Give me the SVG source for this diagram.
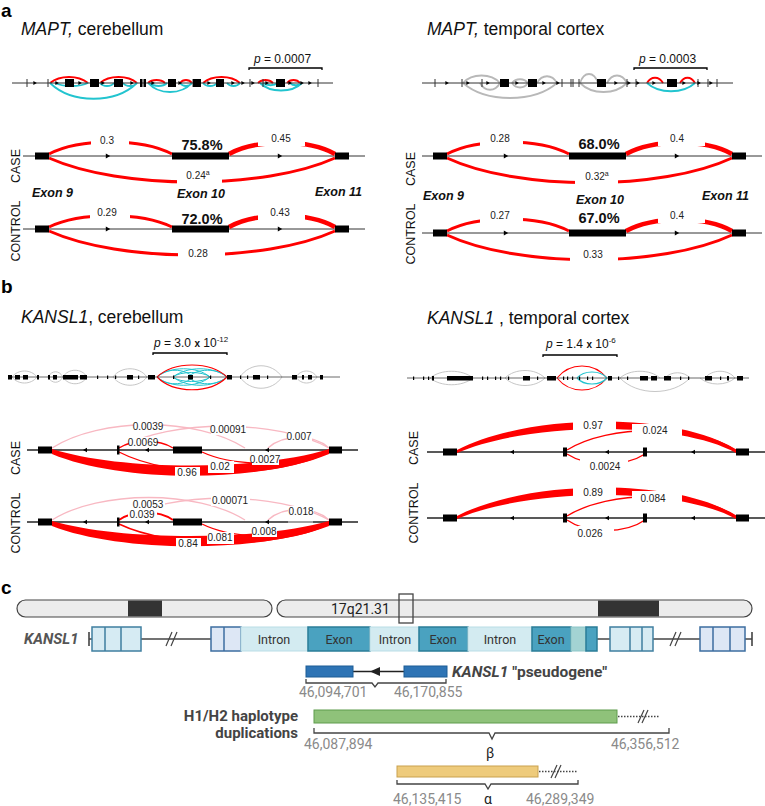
<svg xmlns="http://www.w3.org/2000/svg" width="765" height="806" viewBox="0 0 765 806">
<defs>
<style>
text{font-family:"Liberation Sans",Arial,sans-serif;}
.pl{font-size:19px;font-weight:bold;fill:#000}
.ttl{font-size:17.5px;fill:#111}
.pv{font-size:12px;fill:#111}
.num{font-size:10px;fill:#222;text-anchor:middle}
.pct{font-size:14.5px;font-weight:bold;fill:#111;text-anchor:middle}
.ex{font-size:12.5px;font-weight:bold;font-style:italic;fill:#111}
.cc{font-size:12.5px;fill:#111;text-anchor:middle}
.ln{stroke:#333;stroke-width:1;fill:none}
.lnb{stroke:#222;stroke-width:1.3;fill:none}
.red{stroke:#ff0000;fill:none}
.pink{stroke:#f8b8c2;fill:none;stroke-width:1.3}
.cy{stroke:#22c4cf;fill:none}
.gr{stroke:#b8b8b8;fill:none}
.box{fill:#fff}
.ink{fill:#000}
.brk{stroke:#000;stroke-width:1.3;fill:none}
.rb{font-family:Roboto,"Liberation Sans",sans-serif}
.coord{font-family:Roboto,"Liberation Sans",sans-serif;font-size:14px;fill:#8a8a8a}
.gtx{font-family:Roboto,"Liberation Sans",sans-serif;font-size:12.5px;fill:#333;text-anchor:middle}
.lb{fill:#d6ebf3;stroke:#3f7fa0;stroke-width:1.5}
.lb2{fill:#dde7f5;stroke:#3c6ea0;stroke-width:1.5}
.intr{fill:#d3ebf1;stroke:#b9dde6;stroke-width:1}
.exn{fill:#4aa2c0;stroke:#2b7d98;stroke-width:1.5}
.brace{stroke:#444;stroke-width:1.3;fill:none}
</style>
<path id="ar" d="M-2.2,-2.6 L2.2,0 L-2.2,2.6 Z"/>
<path id="al" d="M2,-2.2 L-2,0 L2,2.2 Z"/>
<path id="sar" d="M-1.6,-2 L1.8,0 L-1.6,2 Z"/>
</defs>
<rect width="765" height="806" fill="#fff"/>

<!-- ================= PANEL A LEFT ================= -->
<g id="panel-a-left">
<text class="pl" x="1" y="17" font-size="17">a</text>
<text class="ttl" x="21" y="35"><tspan font-style="italic">MAPT,</tspan> cerebellum</text>
<text class="pv" x="254" y="63"><tspan font-style="italic">p</tspan> = 0.0007</text>
<path class="brk" d="M249,70 V68 H322 V70"/>
<g id="a-left-mini">
<path class="red" stroke-width="1.8" d="M50,83 C60,75 78,75 88,83 M100,83 C109,75 128,75 137,83 M148,83 C152,79 161,79 165,83 M180,83 C183,79 189,79 192,83 M203,83 C212,75 231,75 240,83 M258,83 C262,79 269,79 273,83 M287,83 C290,79 297,79 300,83"/>
<path class="cy" stroke-width="1.8" d="M50,83 C72,104 115,104 137,83 M55,83 C63,87 80,87 88,83 M100,83 C103,87 111,87 114,83 M123,83 C126,87 134,87 137,83 M150,83 C154,87 163,87 167,83 M148,83 C159,95 181,95 192,83 M180,83 C183,87 189,87 192,83 M203,83 C206,87 214,87 217,83 M227,83 C230,87 237,87 240,83 M260,83 C270,93 292,93 302,83 M263,83 C267,86 274,86 278,83 M290,83 C293,86 299,86 302,83"/>
<line class="ln" x1="12" y1="83" x2="333" y2="83"/>
<path class="ln" d="M27,79 V87 M48,79 V87 M193,79 V87 M250,79 V87 M263,79 V87 M318,79 V87"/>
<g class="ink">
<rect x="65" y="79" width="9" height="8"/><rect x="90" y="79" width="9" height="8"/><rect x="114" y="79" width="9" height="8"/>
<rect x="140" y="79" width="2.5" height="8"/><rect x="143.5" y="79" width="2.5" height="8"/>
<rect x="168" y="79" width="8" height="8"/><rect x="193" y="79" width="8" height="8"/><rect x="216" y="79" width="8" height="8"/><rect x="276" y="79" width="9" height="8"/>
<use href="#sar" x="35" y="83"/><use href="#sar" x="57" y="83"/><use href="#sar" x="80" y="83"/><use href="#sar" x="103" y="83"/><use href="#sar" x="132" y="83"/><use href="#sar" x="153" y="83"/><use href="#sar" x="180" y="83"/><use href="#sar" x="209" y="83"/><use href="#sar" x="233" y="83"/><use href="#sar" x="243" y="83"/><use href="#sar" x="253" y="83"/><use href="#sar" x="267" y="83"/><use href="#sar" x="290" y="83"/><use href="#sar" x="302" y="83"/><use href="#sar" x="310" y="83"/>
</g>
</g>
<!-- CASE -->
<g id="a-left-case">
<line class="ln" x1="23" y1="156" x2="365" y2="156"/>
<path class="red" stroke-width="3" d="M49,154 C80,138 141,138 172,154"/>
<path class="red" stroke-width="4.5" d="M229,154 C256,139 309,139 335,154"/>
<path class="red" stroke-width="3" d="M49,158 C121,190 264,190 335,158"/>
<rect class="box" x="91" y="133" width="38" height="14"/>
<rect class="box" x="258" y="132" width="47" height="14"/>
<rect class="box" x="177" y="170" width="45" height="16"/>
<g class="ink"><rect x="35" y="152.5" width="14" height="7"/><rect x="172" y="152.5" width="57" height="7"/><rect x="335" y="152.5" width="14" height="7"/>
<use href="#ar" x="108" y="156"/><use href="#ar" x="280" y="156"/></g>
<text class="num" x="107" y="144">0.3</text>
<text class="num" x="281" y="142">0.45</text>
<text class="num" x="198" y="179">0.24<tspan font-size="7" dy="-4">a</tspan></text>
<text class="pct" x="202" y="150">75.8%</text>
<text class="cc" transform="translate(15,166) rotate(-90)" dy="4.5">CASE</text>
</g>
<text class="ex" x="32" y="197">Exon 9</text>
<text class="ex" x="177" y="198">Exon 10</text>
<text class="ex" x="315" y="196">Exon 11</text>
<!-- CONTROL -->
<g id="a-left-control">
<line class="ln" x1="23" y1="229" x2="365" y2="229"/>
<path class="red" stroke-width="3" d="M49,227 C80,212 141,212 172,227"/>
<path class="red" stroke-width="4.5" d="M229,227 C256,212 309,212 335,227"/>
<path class="red" stroke-width="3" d="M49,231 C121,263 264,263 335,231"/>
<rect class="box" x="90" y="206" width="40" height="14"/>
<rect class="box" x="258" y="206" width="47" height="14"/>
<rect class="box" x="178" y="246" width="47" height="16"/>
<g class="ink"><rect x="35" y="225.5" width="14" height="7"/><rect x="172" y="225.5" width="57" height="7"/><rect x="335" y="225.5" width="14" height="7"/>
<use href="#ar" x="108" y="229"/><use href="#ar" x="280" y="229"/></g>
<text class="num" x="107" y="216">0.29</text>
<text class="num" x="280" y="216">0.43</text>
<text class="num" x="198" y="257">0.28</text>
<text class="pct" x="202" y="224">72.0%</text>
<text class="cc" transform="translate(15,231) rotate(-90)" dy="4.5">CONTROL</text>
</g>
</g>

<!-- ================= PANEL A RIGHT ================= -->
<g id="panel-a-right">
<text class="ttl" x="427" y="35"><tspan font-style="italic">MAPT,</tspan> temporal cortex</text>
<text class="pv" x="639" y="63"><tspan font-style="italic">p</tspan> = 0.0003</text>
<path class="brk" d="M634,70 V68 H707 V70"/>
<g id="a-right-mini">
<path class="gr" stroke-width="1.8" d="M463,83 C472,73 491,73 500,83 M512,83 C516,78 524,78 528,83 M537,83 C542,74 552,74 557,83 M580,83 C584,71 594,71 598,83 M607,83 C612,73 622,73 627,83"/>
<path class="gr" stroke-width="1.8" d="M463,83 C486,103 534,103 557,83 M480,83 C485,92 495,92 500,83 M512,83 C516,89 524,89 528,83 M580,83 C592,95 615,95 627,83"/>
<path class="red" stroke-width="1.8" d="M647,83 C651,76 659,76 663,83 M680,83 C684,76 691,76 695,83"/>
<path class="cy" stroke-width="1.8" d="M647,83 C659,94 683,94 695,83"/>
<line class="ln" x1="422" y1="83" x2="733" y2="83"/>
<path class="ln" d="M435,79 V87 M462,79 V87 M482,79 V87 M562,79 V87 M571,79 V87 M573,79 V87 M579,79 V87 M627,79 V87 M636,79 V87 M698,79 V87 M708,79 V87 M717,79 V87"/>
<g class="ink">
<rect x="500" y="79" width="9" height="8"/><rect x="528" y="79" width="9" height="8"/><rect x="597" y="79" width="9" height="8"/><rect x="667" y="79" width="10" height="8"/>
<use href="#sar" x="447" y="83"/><use href="#sar" x="468" y="83"/><use href="#sar" x="488" y="83"/><use href="#sar" x="517" y="83"/><use href="#sar" x="544" y="83"/><use href="#sar" x="558" y="83"/><use href="#sar" x="616" y="83"/><use href="#sar" x="629" y="83"/><use href="#sar" x="638" y="83"/><use href="#sar" x="654" y="83"/><use href="#sar" x="684" y="83"/><use href="#sar" x="699" y="83"/><use href="#sar" x="711" y="83"/>
</g>
</g>
<g id="a-right-case">
<line class="ln" x1="422" y1="156" x2="762" y2="156"/>
<path class="red" stroke-width="3" d="M447,154 C478,138 538,138 569,154"/>
<path class="red" stroke-width="4.5" d="M626,154 C653,139 706,139 732,154"/>
<path class="red" stroke-width="3" d="M447,158 C518,191 661,191 732,158"/>
<rect class="box" x="480" y="132" width="43" height="14"/>
<rect class="box" x="658" y="132" width="47" height="14"/>
<rect class="box" x="575" y="170" width="43" height="16"/>
<g class="ink"><rect x="433" y="152.5" width="14" height="7"/><rect x="569" y="152.5" width="57" height="7"/><rect x="732" y="152.5" width="14" height="7"/>
<use href="#ar" x="506" y="156"/><use href="#ar" x="677" y="156"/></g>
<text class="num" x="500" y="142">0.28</text>
<text class="num" x="677" y="142">0.4</text>
<text class="num" x="597" y="180">0.32<tspan font-size="7" dy="-4">a</tspan></text>
<text class="pct" x="599" y="149">68.0%</text>
<text class="cc" transform="translate(410,169) rotate(-90)" dy="4.5">CASE</text>
</g>
<text class="ex" x="423" y="200">Exon 9</text>
<text class="ex" x="576" y="204">Exon 10</text>
<text class="ex" x="702" y="200">Exon 11</text>
<g id="a-right-control">
<line class="ln" x1="422" y1="233" x2="762" y2="233"/>
<path class="red" stroke-width="3" d="M447,231 C478,215 538,215 569,231"/>
<path class="red" stroke-width="4.5" d="M626,231 C653,216 706,216 732,231"/>
<path class="red" stroke-width="3" d="M447,235 C518,268 661,268 732,235"/>
<rect class="box" x="480" y="209" width="43" height="14"/>
<rect class="box" x="658" y="209" width="47" height="14"/>
<rect class="box" x="570" y="248" width="48" height="16"/>
<g class="ink"><rect x="433" y="229.5" width="14" height="7"/><rect x="569" y="229.5" width="57" height="7"/><rect x="732" y="229.5" width="14" height="7"/>
<use href="#ar" x="506" y="233"/><use href="#ar" x="677" y="233"/></g>
<text class="num" x="500" y="219">0.27</text>
<text class="num" x="677" y="219">0.4</text>
<text class="num" x="593" y="258">0.33</text>
<text class="pct" x="599" y="223">67.0%</text>
<text class="cc" transform="translate(410,234) rotate(-90)" dy="4.5">CONTROL</text>
</g>
</g>

<!-- ================= PANEL B LEFT ================= -->
<g id="panel-b-left">
<text class="pl" x="1" y="293">b</text>
<text class="ttl" x="21" y="323"><tspan font-style="italic">KANSL1</tspan>, cerebellum</text>
<text class="pv" x="154" y="347"><tspan font-style="italic">p</tspan> = 3.0 <tspan font-weight="bold" font-size="10">x</tspan> 10<tspan font-size="8" dy="-5">-12</tspan></text>
<path class="brk" d="M153,355 V353 H227 V355"/>
<g id="b-left-mini">
<path class="gr" stroke-width="0.8" d="M12,377 C18,369 31,369 37,377 M12,377 C18,385 31,385 37,377 M48,377 C52,370 59,370 63,377 M48,377 C52,384 59,384 63,377 M63,377 C68,368 82,368 87,377 M63,377 C68,386 82,386 87,377 M113,377 C121,366 139,366 147,377 M113,377 C121,388 139,388 147,377 M240,377 C250,362 272,362 282,377 M240,377 C250,392 272,392 282,377 M296,377 C301,369 312,369 317,377 M296,377 C301,385 312,385 317,377"/>
<path class="cy" stroke-width="1" d="M157,377 C166,368 184,368 193,377 M173,377 C187,366 213,366 227,377 M157,377 C170,366 197,366 210,377 M188,377 C197,368 218,368 227,377 M173,377 C180,371 203,371 210,377 M157,377 C166,386 184,386 193,377 M173,377 C187,388 213,388 227,377 M157,377 C170,388 197,388 210,377 M188,377 C197,386 218,386 227,377 M173,377 C180,383 203,383 210,377"/>
<path class="red" stroke-width="1.1" d="M157,377 C174,361 210,361 227,377 M157,377 C174,394 210,394 227,377"/>
<line x1="8" y1="377" x2="340" y2="377" stroke="#444" stroke-width="0.8"/>
<g class="ink">
<rect x="8" y="375" width="4" height="4.5"/><rect x="15" y="375" width="5" height="4.5"/><rect x="23" y="375" width="5" height="4.5"/><rect x="37" y="375" width="2" height="4.5"/><rect x="48" y="375" width="2" height="4.5"/><rect x="53" y="375" width="4" height="4.5"/><rect x="63" y="375" width="15" height="4.5"/><rect x="80" y="375" width="7" height="4.5"/><rect x="97" y="375.5" width="1.2" height="3.5"/><rect x="107" y="375.5" width="1.2" height="3.5"/><rect x="115" y="375.5" width="1.2" height="3.5"/><rect x="127" y="375" width="6" height="4.5"/><rect x="138" y="375.5" width="1.2" height="3.5"/><rect x="148" y="375" width="7" height="4.5"/><rect x="173" y="375.5" width="1.2" height="3.5"/><rect x="188" y="375" width="5" height="4.5"/><rect x="210" y="375.5" width="1.2" height="3.5"/><rect x="227" y="375" width="5" height="4.5"/><rect x="240" y="375.5" width="1.2" height="3.5"/><rect x="247" y="375.5" width="1.2" height="3.5"/><rect x="253" y="375" width="7" height="4.5"/><rect x="267" y="375.5" width="1.2" height="3.5"/><rect x="292" y="375" width="5" height="4.5"/><rect x="302" y="375" width="2" height="4.5"/><rect x="308" y="375" width="4" height="4.5"/><rect x="320" y="375" width="3" height="4.5"/>
</g>
</g>
<g id="b-left-case">
<line class="lnb" x1="27" y1="450" x2="358" y2="450"/>
<path class="pink" d="M52,448 C100,417 197,417 245,448"/>
<path class="pink" d="M119,448 C171,419 277,419 329,448"/>
<path class="pink" d="M268,448 C283,434 314,434 329,448"/>
<path class="red" stroke-width="1.3" d="M119,448 C133,439 159,439 173,448"/>
<path class="red" stroke-width="1.3" d="M202,452 C234,467 297,467 329,452"/>
<path class="red" stroke-width="1.3" d="M119,452 C171,479 277,479 329,452"/>
<path fill="#ff0000" d="M52,449 C121,471 260,471 329,449 L329,454 C260,483 121,483 52,454 Z"/>
<rect class="box" x="133" y="421" width="30" height="11"/>
<rect class="box" x="211" y="424" width="35" height="11"/>
<rect class="box" x="287" y="431" width="25" height="11"/>
<rect class="box" x="129" y="437" width="28" height="11"/>
<rect class="box" x="252" y="454" width="27" height="11"/>
<rect class="box" x="175" y="467" width="25" height="12"/>
<rect class="box" x="208" y="461" width="26" height="12"/>
<g class="ink"><rect x="38" y="446.5" width="14" height="7"/><rect x="117" y="445.5" width="2.5" height="9"/><rect x="173" y="446.5" width="29" height="7"/><rect x="329" y="446.5" width="13" height="7"/>
<use href="#al" x="85" y="450"/><use href="#al" x="147" y="450"/><use href="#al" x="267" y="450"/></g>
<text class="num" x="148" y="430">0.0039</text>
<text class="num" x="228" y="433">0.00091</text>
<text class="num" x="299" y="440">0.007</text>
<text class="num" x="143" y="446">0.0069</text>
<text class="num" x="265" y="463">0.0027</text>
<text class="num" x="187" y="476">0.96</text>
<text class="num" x="220" y="470">0.02</text>
<text class="cc" transform="translate(15,458) rotate(-90)" dy="4.5">CASE</text>
</g>
<g id="b-left-control">
<line class="lnb" x1="27" y1="522" x2="358" y2="522"/>
<line x1="288" y1="522" x2="313" y2="522" stroke="#bbb" stroke-width="1.5"/>
<path class="pink" d="M52,520 C100,490 197,490 245,520"/>
<path class="pink" d="M119,520 C171,491 277,491 329,520"/>
<path class="pink" d="M268,520 C283,506 314,506 329,520"/>
<path class="red" stroke-width="2" d="M119,520 C133,510 159,510 173,520"/>
<path class="red" stroke-width="1.3" d="M202,524 C234,540 297,540 329,524"/>
<path class="red" stroke-width="1.5" d="M119,524 C171,549 277,549 329,524"/>
<path fill="#ff0000" d="M52,521 C121,541 260,541 329,521 L329,526 C260,553 121,553 52,526 Z"/>
<rect class="box" x="132" y="499" width="33" height="11"/>
<rect class="box" x="211" y="495" width="39" height="11"/>
<rect class="box" x="288" y="506" width="26" height="11"/>
<rect class="box" x="128" y="509" width="29" height="11"/>
<rect class="box" x="252" y="526" width="25" height="11"/>
<rect class="box" x="176" y="538" width="25" height="12"/>
<rect class="box" x="207" y="532" width="27" height="12"/>
<g class="ink"><rect x="38" y="518.5" width="14" height="7"/><rect x="117" y="517.5" width="2.5" height="9"/><rect x="173" y="518.5" width="29" height="7"/><rect x="329" y="518.5" width="13" height="7"/>
<use href="#al" x="85" y="522"/><use href="#al" x="147" y="522"/><use href="#al" x="267" y="522"/></g>
<text class="num" x="148" y="508">0.0053</text>
<text class="num" x="230" y="504">0.00071</text>
<text class="num" x="301" y="515">0.018</text>
<text class="num" x="142" y="518">0.039</text>
<text class="num" x="264" y="535">0.008</text>
<text class="num" x="188" y="547">0.84</text>
<text class="num" x="220" y="541">0.081</text>
<text class="cc" transform="translate(15,523) rotate(-90)" dy="4.5">CONTROL</text>
</g>
</g>

<!-- ================= PANEL B RIGHT ================= -->
<g id="panel-b-right">
<text class="ttl" x="427" y="324"><tspan font-style="italic">KANSL1</tspan> , temporal cortex</text>
<text class="pv" x="546" y="348"><tspan font-style="italic">p</tspan> = 1.4 <tspan font-weight="bold" font-size="10">x</tspan> 10<tspan font-size="8" dy="-5">-6</tspan></text>
<path class="brk" d="M543,357 V355 H617 V357"/>
<g id="b-right-mini">
<path class="gr" stroke-width="0.8" d="M430,378 C441,369 462,369 473,378 M430,378 C441,387 462,387 473,378 M505,378 C515,368 535,368 545,378 M505,378 C515,388 535,388 545,378 M620,378 C630,369 650,369 660,378 M620,378 C637,396 673,396 690,378 M665,378 C671,371 684,371 690,378 M705,378 C712,369 728,369 735,378 M700,378 C709,386 726,386 735,378"/>
<path class="red" stroke-width="1.1" d="M557,378 C570,362 594,362 607,378 M557,378 C570,394 594,394 607,378"/>
<path class="cy" stroke-width="1.2" d="M577,378 C584,370 600,370 607,378 M577,378 C584,386 600,386 607,378"/>
<line x1="407" y1="378" x2="749" y2="378" stroke="#444" stroke-width="0.8"/>
<g class="ink">
<rect x="413" y="376.5" width="1.2" height="3.5"/><rect x="423" y="376.5" width="1.2" height="3.5"/><rect x="428" y="376.5" width="1.2" height="3.5"/><rect x="432" y="376" width="2" height="4.5"/><rect x="447" y="376" width="26" height="4.5"/><rect x="482" y="376.5" width="1.2" height="3.5"/><rect x="487" y="376.5" width="1.2" height="3.5"/><rect x="495" y="376.5" width="1.2" height="3.5"/><rect x="500" y="376.5" width="1.2" height="3.5"/><rect x="508" y="376.5" width="1.2" height="3.5"/><rect x="523" y="376" width="7" height="4.5"/><rect x="537" y="376.5" width="1.2" height="3.5"/><rect x="547" y="376" width="9" height="4.5"/><rect x="563" y="376.5" width="1.2" height="3.5"/><rect x="567" y="376.5" width="1.2" height="3.5"/><rect x="572" y="376.5" width="1.2" height="3.5"/><rect x="579" y="376.5" width="1.2" height="3.5"/><rect x="587" y="376.5" width="1.2" height="3.5"/><rect x="592" y="376.5" width="1.2" height="3.5"/><rect x="608" y="376" width="4" height="4.5"/><rect x="618" y="376.5" width="1.2" height="3.5"/><rect x="627" y="376.5" width="1.2" height="3.5"/><rect x="640" y="376" width="8" height="4.5"/><rect x="651" y="376" width="6" height="4.5"/><rect x="664" y="376" width="7" height="4.5"/><rect x="680" y="376.5" width="1.2" height="3.5"/><rect x="688" y="376.5" width="1.2" height="3.5"/><rect x="705" y="376" width="7" height="4.5"/><rect x="720" y="376.5" width="1.2" height="3.5"/><rect x="727" y="376" width="2" height="4.5"/><rect x="737" y="376" width="6" height="4.5"/>
</g>
</g>
<g id="b-right-case">
<line class="lnb" x1="427" y1="452" x2="765" y2="452"/>
<path class="red" stroke-width="1.3" d="M567,450 C609,424 694,424 736,450"/>
<path class="red" stroke-width="1.3" d="M567,454 C587,467 625,467 645,454"/>
<path fill="#ff0000" d="M457,450 C530,412 680,412 736,450 L736,453 C680,421 530,421 457,453 Z"/>
<rect class="box" x="573" y="418" width="43" height="14"/>
<rect class="box" x="632" y="424" width="50" height="14"/>
<rect class="box" x="580" y="459" width="48" height="15"/>
<g class="ink"><rect x="443" y="448.5" width="14" height="7"/><rect x="563" y="447.5" width="4" height="9"/><rect x="643" y="447.5" width="4" height="9"/><rect x="736" y="448.5" width="13" height="7"/>
<use href="#al" x="512" y="452"/><use href="#al" x="607" y="452"/><use href="#al" x="693" y="452"/></g>
<text class="num" x="593" y="429">0.97</text>
<text class="num" x="655" y="434">0.024</text>
<text class="num" x="605" y="470">0.0024</text>
<text class="cc" transform="translate(413,448) rotate(-90)" dy="4.5">CASE</text>
</g>
<g id="b-right-control">
<line class="lnb" x1="427" y1="518" x2="765" y2="518"/>
<path class="red" stroke-width="1.3" d="M567,516 C609,490 694,490 736,516"/>
<path class="red" stroke-width="1.3" d="M567,520 C587,534 625,534 645,520"/>
<path fill="#ff0000" d="M457,516 C530,478 680,478 736,516 L736,519 C680,487 530,487 457,519 Z"/>
<rect class="box" x="573" y="484" width="43" height="14"/>
<rect class="box" x="632" y="491" width="50" height="14"/>
<rect class="box" x="578" y="526" width="36" height="15"/>
<g class="ink"><rect x="443" y="514.5" width="14" height="7"/><rect x="563" y="513.5" width="4" height="9"/><rect x="643" y="513.5" width="4" height="9"/><rect x="736" y="514.5" width="13" height="7"/>
<use href="#al" x="512" y="518"/><use href="#al" x="607" y="518"/><use href="#al" x="693" y="518"/></g>
<text class="num" x="593" y="496">0.89</text>
<text class="num" x="653" y="502">0.084</text>
<text class="num" x="590" y="537">0.026</text>
<text class="cc" transform="translate(413,513) rotate(-90)" dy="4.5">CONTROL</text>
</g>
</g>

<!-- ================= PANEL C ================= -->
<g id="panel-c">
<text class="pl" x="1" y="594">c</text>
<g id="chromosome">
<rect x="17" y="600" width="255" height="17" rx="8.5" fill="#ececec" stroke="#444" stroke-width="1.2"/>
<rect x="128" y="600.6" width="34" height="15.8" fill="#333"/>
<rect x="277" y="600" width="475" height="17" rx="8.5" fill="#ececec" stroke="#444" stroke-width="1.2"/>
<rect x="598" y="600.6" width="61" height="15.8" fill="#333"/>
<text class="rb" x="331" y="614" font-size="14" fill="#222">17q21.31</text>
<rect x="399" y="594" width="14" height="29" fill="none" stroke="#444" stroke-width="1.3"/>
</g>
<g id="kansl1-gene">
<text class="rb" x="24" y="644" font-size="15" font-weight="bold" font-style="italic" fill="#555">KANSL1</text>
<line x1="89" y1="639" x2="752" y2="639" stroke="#444" stroke-width="1.6"/>
<path d="M89,632 V646 M752,632 V646" stroke="#444" stroke-width="1.6"/>
<path d="M166,646 L172,632 M171,646 L177,632 M670,646 L676,632 M675,646 L681,632" stroke="#444" stroke-width="1.2"/>
<rect class="lb" x="92" y="627" width="49" height="24"/>
<path d="M105,627 V651 M121,627 V651" stroke="#3f7fa0" stroke-width="1.5"/>
<rect class="lb2" x="211" y="627" width="30" height="24"/>
<path d="M224,627 V651" stroke="#3c6ea0" stroke-width="1.5"/>
<rect class="intr" x="241" y="627" width="67" height="24"/>
<rect class="exn" x="308" y="627" width="62" height="24"/>
<rect class="intr" x="370" y="627" width="49" height="24"/>
<rect class="exn" x="419" y="627" width="49" height="24"/>
<rect class="intr" x="468" y="627" width="64" height="24"/>
<rect class="exn" x="532" y="627" width="39" height="24"/>
<rect x="571" y="627" width="15" height="24" fill="#a3d3d3" stroke="#8cc6c8" stroke-width="1"/>
<rect class="exn" x="586" y="627" width="11" height="24"/>
<text class="gtx" x="274" y="644">Intron</text>
<text class="gtx" x="339" y="644">Exon</text>
<text class="gtx" x="395" y="644">Intron</text>
<text class="gtx" x="443" y="644">Exon</text>
<text class="gtx" x="500" y="644">Intron</text>
<text class="gtx" x="551" y="644">Exon</text>
<rect class="lb" x="610" y="627" width="43" height="24"/>
<path d="M630,627 V651 M642,627 V651" stroke="#3f7fa0" stroke-width="1.5"/>
<rect class="lb2" x="700" y="627" width="45" height="24"/>
<path d="M713,627 V651 M730,627 V651" stroke="#3c6ea0" stroke-width="1.5"/>
</g>
<g id="pseudogene">
<line x1="353" y1="671.5" x2="404" y2="671.5" stroke="#222" stroke-width="1.6"/>
<path d="M370,671.5 L380,667 L380,676 Z" fill="#222"/>
<rect x="306" y="666" width="47" height="11" fill="#2e74b5" stroke="#1d5c95" stroke-width="1"/>
<rect x="404" y="666" width="43" height="11" fill="#2e74b5" stroke="#1d5c95" stroke-width="1"/>
<text class="rb" x="452" y="677" font-size="15.5" font-weight="bold" fill="#444"><tspan font-style="italic">KANSL1</tspan> "pseudogene"</text>
<path class="brace" d="M306,679 V683 H372 L375,687 L378,683 H446 V679"/>
<text class="coord" x="299" y="697">46,094,701</text>
<text class="coord" x="394" y="697">46,170,855</text>
</g>
<g id="beta">
<text class="rb" x="298" y="721" font-size="15" font-weight="bold" fill="#444" text-anchor="end">H1/H2 haplotype</text>
<text class="rb" x="298" y="738" font-size="15" font-weight="bold" fill="#444" text-anchor="end">duplications</text>
<rect x="314" y="710" width="303" height="13" fill="#8fc27a" stroke="#5e9c4c" stroke-width="1"/>
<line x1="618" y1="716.5" x2="659" y2="716.5" stroke="#444" stroke-width="1.3" stroke-dasharray="1.5,1.5"/>
<path d="M638,723 L644,710 M642,723 L648,710" stroke="#444" stroke-width="1.2"/>
<path class="brace" d="M314,728 V733 H489 L492,739 L495,733 H669 V728"/>
<text class="coord" x="304" y="749">46,087,894</text>
<text class="coord" x="611" y="749">46,356,512</text>
<text class="rb" x="486" y="758" font-size="14" fill="#222">β</text>
</g>
<g id="alpha">
<rect x="397" y="766" width="141" height="11" fill="#eecb7c" stroke="#c9a14e" stroke-width="1"/>
<line x1="539" y1="771.5" x2="578" y2="771.5" stroke="#444" stroke-width="1.3" stroke-dasharray="1.5,1.5"/>
<path d="M551,778 L557,765 M555,778 L561,765" stroke="#444" stroke-width="1.2"/>
<path class="brace" d="M397,780 V784 H485 L488,789 L491,784 H578 V780"/>
<text class="coord" x="393" y="804">46,135,415</text>
<text class="coord" x="526" y="804">46,289,349</text>
<text class="rb" x="484" y="804" font-size="14" fill="#222">α</text>
</g>
</g>
</svg>
